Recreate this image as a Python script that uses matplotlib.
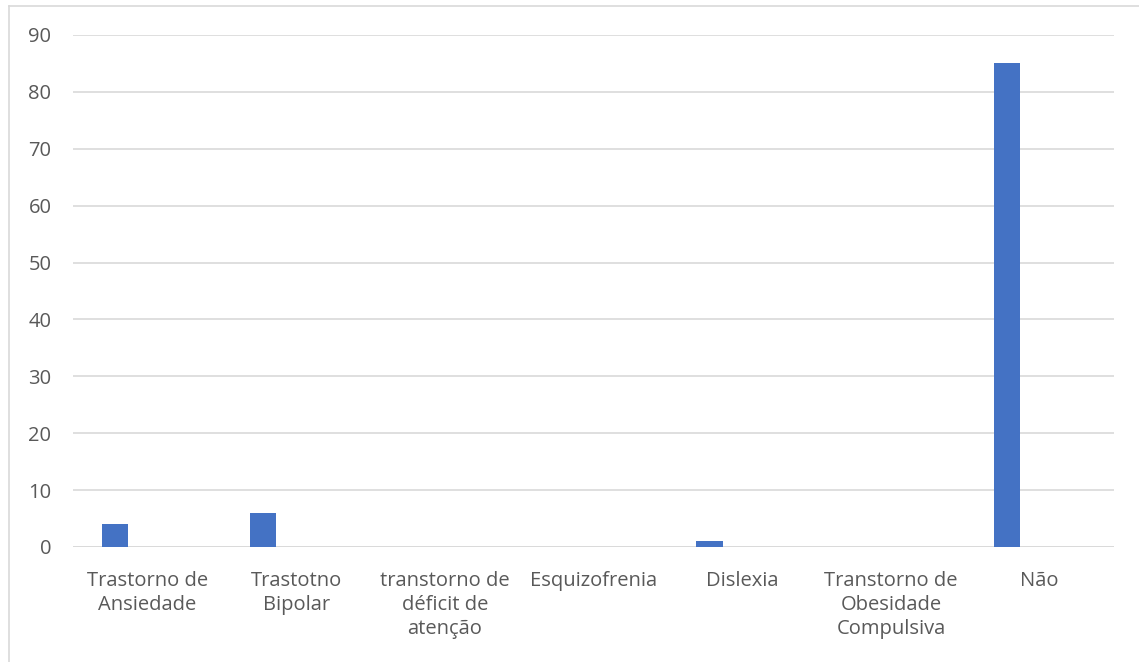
import matplotlib
matplotlib.use("Agg")
import matplotlib.pyplot as plt
import numpy as np

categories = ["Trastorno de\nAnsiedade", "Trastotno\nBipolar", "transtorno de\ndéficit de\natenção",
              "Esquizofrenia", "Dislexia", "Transtorno de\nObesidade\nCompulsiva", "Não"]
values = [4, 6, 0, 0, 1, 0, 85]
yticks = [0, 10, 20, 30, 40, 50, 60, 70, 80, 90]

plt.rcParams['font.family'] = ['Open Sans', 'DejaVu Sans']
W, H = 1139, 662
fig = plt.figure(figsize=(W/100, H/100), dpi=100)
ax = fig.add_axes([73/W, 115/H, (1114-73)/W, (547-35)/H])

x = np.arange(len(categories))
ax.bar(x - 0.22, values, width=0.175, color='#4472C4', zorder=3)
ax.set_xlim(-0.5, len(categories) - 0.5)
ax.set_ylim(0, 90)
ax.set_yticks(yticks)
ax.set_xticks(x)
ax.set_xticklabels(categories, fontsize=14.5, color='#595959', linespacing=1.24)
ax.tick_params(axis='y', labelsize=14.5, labelcolor='#595959', length=0, pad=15.5)
ax.tick_params(axis='x', length=0, pad=17.5)
ax.grid(axis='y', color='#D9D9D9', linewidth=1.2, zorder=0)
for s in ax.spines.values():
    s.set_visible(False)
ax.axhline(0, color='#D9D9D9', linewidth=1.2, zorder=2)

# chart border
fig.add_artist(plt.Line2D([9/W, 1], [1-6/H, 1-6/H], color='#D9D9D9', linewidth=1.2))
fig.add_artist(plt.Line2D([9/W, 9/W], [0, 1-6/H], color='#D9D9D9', linewidth=1.2))

fig.savefig("out.png", dpi=100)
